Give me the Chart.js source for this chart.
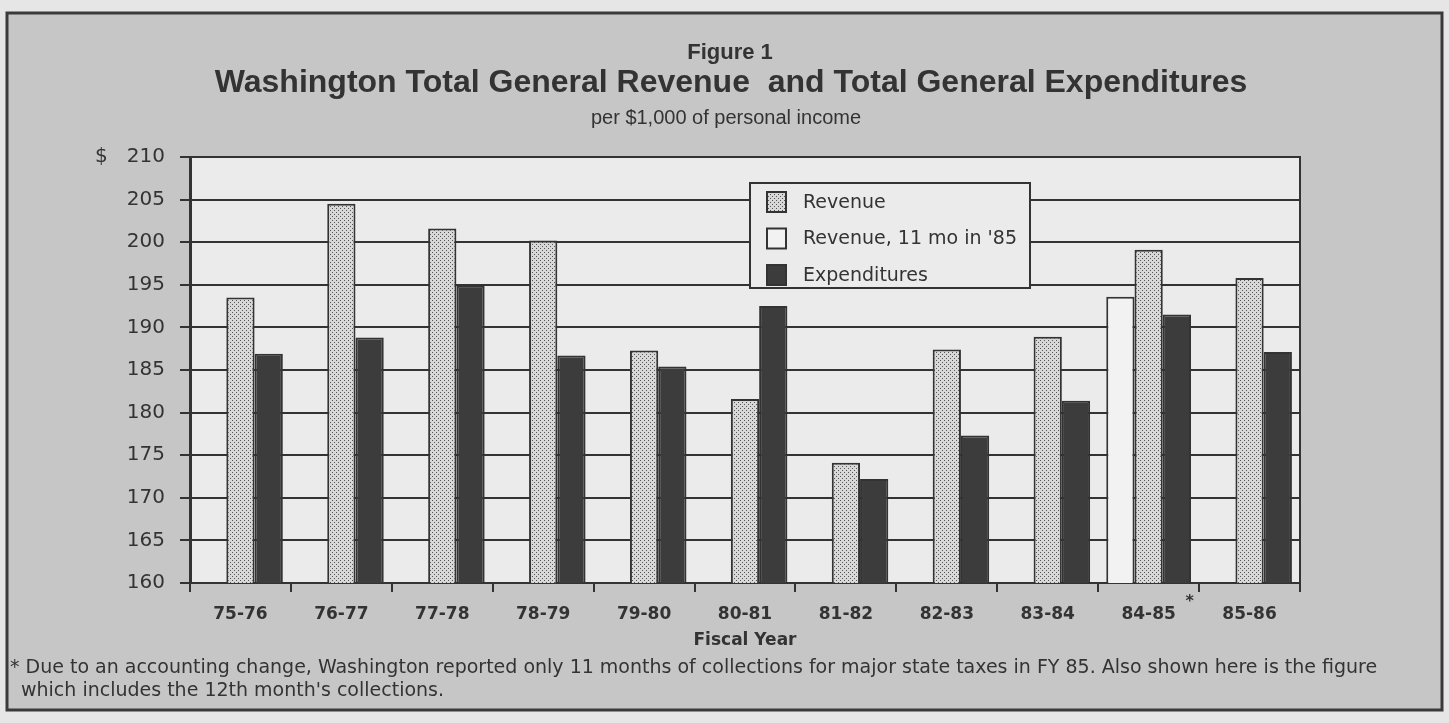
<!DOCTYPE html>
<html>
<head>
<meta charset="utf-8">
<script src="https://cdn.jsdelivr.net/npm/chart.js@4.4.1/dist/chart.umd.min.js"></script>
<style>
  html, body { margin: 0; padding: 0; background: #e6e6e6; }
  #wrap { width: 1449px; height: 723px; position: relative; }
</style>
</head>
<body>
<div id="wrap"><canvas id="chart"></canvas></div>
<script>
// Fiscal years on the x axis
const categories = ['75-76', '76-77', '77-78', '78-79', '79-80', '80-81', '81-82', '82-83', '83-84', '84-85', '85-86'];

// Dollars per $1,000 of personal income
const revenue = [193.5, 204.5, 201.6, 200.2, 187.3, 181.6, 174.1, 187.4, 188.9, 199.1, 195.8];
const revenueElevenMonths = [null, null, null, null, null, null, null, null, null, 193.6, null];
const expenditures = [186.9, 188.8, 194.9, 186.7, 185.4, 192.5, 172.2, 177.3, 181.4, 191.5, 187.1];

// Value axis range
const yMin = 160;
const yMax = 210;
const yStep = 5;

const figureLabel = 'Figure 1';
const titleText = 'Washington Total General Revenue  and Total General Expenditures';
const subtitleText = 'per $1,000 of personal income';
const axisTitle = 'Fiscal Year';
const footnoteLines = [
  "* Due to an accounting change, Washington reported only 11 months of collections for major state taxes in FY 85. Also shown here is the figure",
  "which includes the 12th month's collections."
];
const footnotedCategory = '84-85';

const INK = '#333333';
const FRAME_BG = '#c6c6c6';
const PLOT_BG = '#ebebeb';

// Dotted screen used for the revenue bars
function stipplePattern() {
  const p = document.createElement('canvas');
  p.width = 4; p.height = 4;
  const g = p.getContext('2d');
  g.fillStyle = '#d8d8d8';
  g.fillRect(0, 0, 4, 4);
  g.fillStyle = '#555555';
  g.fillRect(0, 0, 1, 1);
  g.fillRect(2, 2, 1, 1);
  return g.createPattern(p, 'repeat');
}
const stipple = stipplePattern();

// Page frame, plot background, headings and notes
const decorPlugin = {
  id: 'decor',
  beforeDraw(chart) {
    const { ctx, width, height, chartArea: ca } = chart;
    ctx.save();
    ctx.fillStyle = '#e6e6e6';
    ctx.fillRect(0, 0, width, height);
    ctx.fillStyle = FRAME_BG;
    ctx.fillRect(7, 13, width - 14, 697);
    ctx.strokeStyle = '#3a3a3a';
    ctx.lineWidth = 3;
    ctx.strokeRect(7, 13, width - 14, 697);
    ctx.fillStyle = PLOT_BG;
    ctx.fillRect(ca.left, ca.top, ca.right - ca.left, ca.bottom - ca.top);

    ctx.fillStyle = INK;
    ctx.textAlign = 'center';
    ctx.textBaseline = 'alphabetic';
    ctx.font = 'bold 22px "Liberation Sans", Arial, sans-serif';
    ctx.fillText(figureLabel, 730, 59);
    ctx.font = 'bold 32px "Liberation Sans", Arial, sans-serif';
    ctx.fillText(titleText, 731, 92);
    ctx.font = '20px "Liberation Sans", Arial, sans-serif';
    ctx.fillText(subtitleText, 726, 124);
    ctx.restore();
  },
  beforeDatasetsDraw(chart) {
    const { ctx, chartArea: ca } = chart;
    ctx.save();
    ctx.strokeStyle = INK;
    ctx.lineWidth = 2;
    ctx.beginPath();
    ctx.moveTo(ca.right, ca.top - 1);
    ctx.lineTo(ca.right, ca.bottom);
    ctx.stroke();
    ctx.restore();
  },
  afterDatasetsDraw(chart) {
    // Legend box inside the plot
    const { ctx, chartArea: ca } = chart;
    const x = ca.left + 560, y = ca.top + 26, w = 280, h = 105;
    ctx.save();
    ctx.fillStyle = PLOT_BG;
    ctx.fillRect(x, y, w, h);
    ctx.strokeStyle = INK;
    ctx.lineWidth = 2;
    ctx.strokeRect(x, y, w, h);
    const order = [1, 0, 2];
    ctx.font = '19px "DejaVu Sans", sans-serif';
    ctx.textBaseline = 'middle';
    ctx.textAlign = 'left';
    order.forEach((di, row) => {
      const ds = chart.data.datasets[di];
      const cy = y + 19 + row * 36.5;
      ctx.fillStyle = ds.backgroundColor;
      ctx.fillRect(x + 16, cy - 11, 21, 22);
      ctx.strokeStyle = INK;
      ctx.lineWidth = 2;
      ctx.strokeRect(x + 17, cy - 10, 19, 20);
      ctx.fillStyle = INK;
      ctx.fillText(ds.label, x + 53, cy + 1);
    });
    ctx.restore();
  },
  afterDraw(chart) {
    const { ctx } = chart;
    const xs = chart.scales.x;
    ctx.save();
    ctx.fillStyle = INK;
    // asterisk after the footnoted fiscal year
    ctx.font = 'bold 16px "DejaVu Sans", sans-serif';
    ctx.textAlign = 'center';
    ctx.textBaseline = 'middle';
    ctx.fillText('*', xs.getPixelForValue(categories.indexOf(footnotedCategory)) + 41, 602);
    // footnote
    ctx.font = '19px "DejaVu Sans", sans-serif';
    ctx.textAlign = 'left';
    ctx.textBaseline = 'middle';
    ctx.fillText(footnoteLines[0], 10, 668);
    ctx.fillText(footnoteLines[1], 21, 691);
    ctx.restore();
  }
};

new Chart(document.getElementById('chart'), {
  type: 'bar',
  data: {
    labels: categories,
    datasets: [
      {
        label: "Revenue, 11 mo in '85",
        data: revenueElevenMonths,
        backgroundColor: '#f2f2f2',
        borderColor: INK,
        borderWidth: 2
      },
      {
        label: 'Revenue',
        data: revenue,
        backgroundColor: stipple,
        borderColor: INK,
        borderWidth: 2
      },
      {
        label: 'Expenditures',
        data: expenditures,
        backgroundColor: '#3c3c3c',
        borderColor: INK,
        borderWidth: 2
      }
    ]
  },
  options: {
    responsive: true,
    maintainAspectRatio: false,
    animation: false,
    layout: { padding: { left: 80, right: 149, top: 157, bottom: 72 } },
    datasets: {
      bar: { categoryPercentage: 0.84, barPercentage: 1.0, borderSkipped: 'start' }
    },
    plugins: {
      legend: { display: false },
      tooltip: { enabled: false }
    },
    scales: {
      x: {
        offset: true,
        afterFit(scale) { scale.height = 68; },
        grid: {
          offset: true,
          drawOnChartArea: false,
          drawTicks: true,
          tickLength: 9,
          lineWidth: 2,
          color: INK
        },
        border: { display: true, color: INK, width: 2 },
        ticks: {
          padding: 12,
          color: INK,
          font: { family: '"DejaVu Sans", sans-serif', size: 17, weight: 'bold' }
        },
        title: {
          display: true,
          text: axisTitle,
          color: INK,
          padding: { top: 0, bottom: 0 },
          font: { family: '"DejaVu Sans", sans-serif', size: 17, weight: 'bold' }
        }
      },
      y: {
        min: yMin,
        max: yMax,
        afterFit(scale) { scale.width = 110; },
        grid: {
          drawOnChartArea: true,
          drawTicks: true,
          tickLength: 10,
          lineWidth: 2,
          color: INK
        },
        border: { display: true, color: INK, width: 3 },
        ticks: {
          stepSize: yStep,
          padding: 15,
          color: INK,
          font: { family: '"DejaVu Sans", sans-serif', size: 20 },
          callback(value) { return value === yMax ? '$   ' + value : String(value); }
        }
      }
    }
  },
  plugins: [decorPlugin]
});
</script>
</body>
</html>
